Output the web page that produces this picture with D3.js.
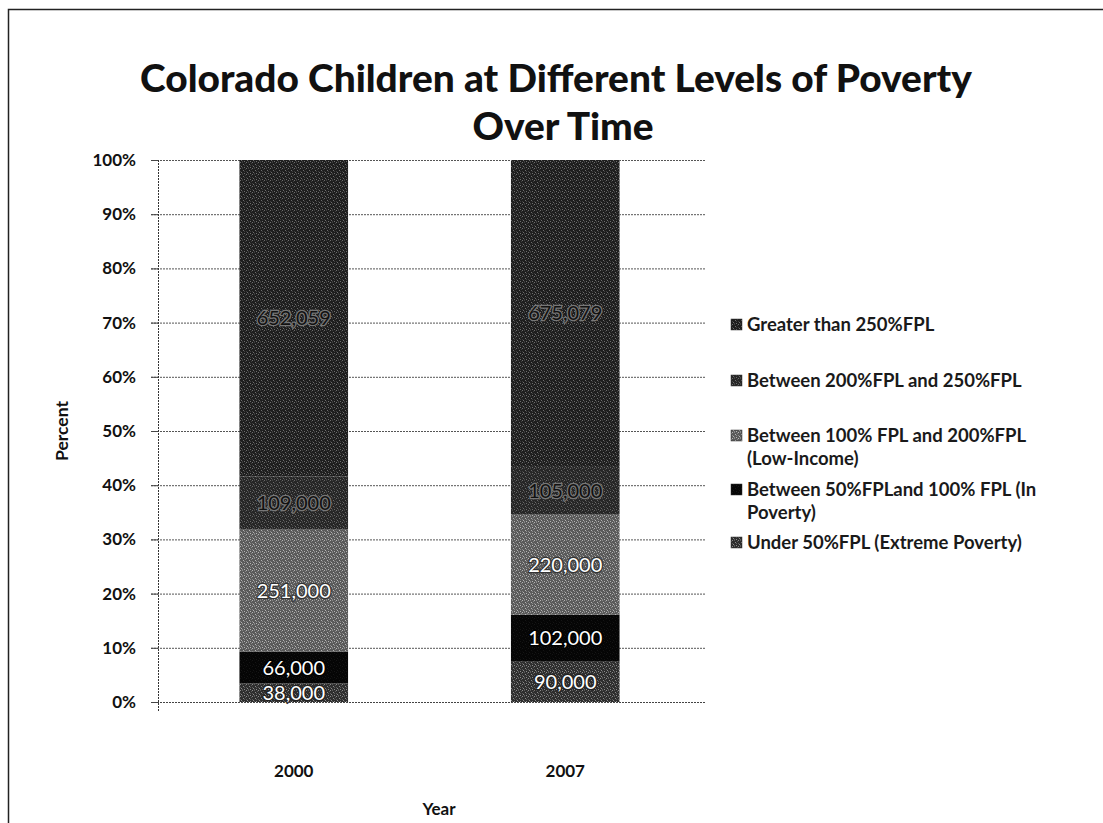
<!DOCTYPE html>
<html>
<head>
<meta charset="utf-8">
<script src="https://cdn.jsdelivr.net/npm/d3@7/dist/d3.min.js"></script>
<style>
  html, body { margin: 0; padding: 0; background: #fff; }
  svg { display: block; }
  text { font-family: Lato, "Open Sans", "DejaVu Sans", sans-serif; }
</style>
</head>
<body>
<svg id="chart" width="1103" height="823"></svg>
<script>
// ---------------- DATA ----------------
const years = ["2000", "2007"];
const seriesKeys = ["under50", "p50to100", "p100to200", "p200to250", "over250"];
const under50   = [38000, 90000];
const p50to100  = [66000, 102000];
const p100to200 = [251000, 220000];
const p200to250 = [109000, 105000];
const over250   = [652059, 675079];
const legendLines = {
  over250:   ["Greater than 250%FPL"],
  p200to250: ["Between 200%FPL and 250%FPL"],
  p100to200: ["Between 100% FPL and 200%FPL", "(Low-Income)"],
  p50to100:  ["Between 50%FPLand 100% FPL (In", "Poverty)"],
  under50:   ["Under 50%FPL (Extreme Poverty)"]
};
const yTicks = [0, 0.1, 0.2, 0.3, 0.4, 0.5, 0.6, 0.7, 0.8, 0.9, 1.0];
const titleLines = ["Colorado Children at Different Levels of Poverty", "Over Time"];
const yTitle = "Percent";
const xTitle = "Year";

// ---------------- BUILD TABLE ----------------
const seriesValues = { under50, p50to100, p100to200, p200to250, over250 };
const table = years.map((y, i) => {
  const row = { year: y };
  seriesKeys.forEach(k => row[k] = seriesValues[k][i]);
  return row;
});

// ---------------- STYLES ----------------
const fills = {
  under50:   { base: "#2e2e2e", dot: "#8a8a8a", dot2: "#5a5a5a" },
  p50to100:  { base: "#050505", dot: "#151515", dot2: "#0a0a0a" },
  p100to200: { base: "#5a5a5a", dot: "#b4b4b4", dot2: "#888888" },
  p200to250: { base: "#262626", dot: "#6a6a6a", dot2: "#444444" },
  over250:   { base: "#1e1e1e", dot: "#6e6e6e", dot2: "#3e3e3e" }
};
const labelStyle = {
  under50:   { fill: "#ffffff", halo: "#222" },
  p50to100:  { fill: "#ffffff", halo: "#000" },
  p100to200: { fill: "#ffffff", halo: "#333" },
  p200to250: { fill: "#111111", halo: "#777" },
  over250:   { fill: "#111111", halo: "#777" }
};

const svg = d3.select("#chart");
const W = 1103, H = 823;

// patterns (texture like the dithered print)
const defs = svg.append("defs");
seriesKeys.forEach(k => {
  const f = fills[k];
  const p = defs.append("pattern")
    .attr("id", "pat-" + k)
    .attr("patternUnits", "userSpaceOnUse")
    .attr("width", 6).attr("height", 6);
  p.append("rect").attr("width", 6).attr("height", 6).attr("fill", f.base);
  [[0,0],[3,2],[1,4],[4,5]].forEach(([x,y]) =>
    p.append("rect").attr("x", x).attr("y", y).attr("width", 1).attr("height", 1).attr("fill", f.dot));
  [[2,0],[5,1],[0,3],[4,3],[2,5]].forEach(([x,y]) =>
    p.append("rect").attr("x", x).attr("y", y).attr("width", 1).attr("height", 1).attr("fill", f.dot2));
});

// outer border (only top & left visible in reference)
svg.append("path")
  .attr("d", `M8.5,${H} L8.5,9.5 L${W},9.5`)
  .attr("fill", "none").attr("stroke", "#222").attr("stroke-width", 1.5);

function fitWidth(sel, target) {
  const fs = parseFloat(sel.attr("font-size"));
  const w = sel.node().getComputedTextLength();
  const nfs = fs * target / w;
  sel.attr("font-size", nfs);
  return nfs;
}

// ---------------- LAYOUT ----------------
const plot = { left: 158, right: 701, top: 160, bottom: 702 };

const x = d3.scaleBand()
  .domain(years)
  .range([plot.left, plot.right])
  .paddingInner(0.6)
  .paddingOuter(0.3);

const y = d3.scaleLinear()
  .domain([0, 1])
  .range([plot.bottom, plot.top]);

// gridlines
svg.append("g")
  .selectAll("line")
  .data(yTicks.filter(d => d > 0))
  .join("line")
  .attr("x1", plot.left - 7).attr("x2", plot.right + 4)
  .attr("y1", d => y(d) + 0.5).attr("y2", d => y(d) + 0.5)
  .attr("stroke", "#555").attr("stroke-width", 1)
  .attr("stroke-dasharray", "2,1");

// stacked bars
const stack = d3.stack().keys(seriesKeys).offset(d3.stackOffsetExpand);
const stacked = stack(table);

const groups = svg.append("g").selectAll("g")
  .data(stacked)
  .join("g")
  .attr("fill", d => `url(#pat-${d.key})`);

groups.selectAll("rect")
  .data(d => d.map(v => ({ key: d.key, v })))
  .join("rect")
  .attr("x", d => x(d.v.data.year))
  .attr("width", x.bandwidth())
  .attr("y", d => y(d.v[1]))
  .attr("height", d => y(d.v[0]) - y(d.v[1]));

// axes
const yAxis = d3.axisLeft(y).tickValues(yTicks).tickFormat(d3.format(".0%")).tickSize(7).tickPadding(15);
const gy = svg.append("g").attr("transform", `translate(${plot.left},0)`).call(yAxis);
gy.select(".domain").attr("d", `M0.5,${plot.top}V${plot.bottom + 9}`).attr("stroke", "#333").attr("stroke-dasharray", "2,1");
gy.selectAll(".tick line").attr("stroke", "#444");
gy.selectAll(".tick text")
  .attr("font-size", 17).attr("font-weight", 700).attr("fill", "#111")
  .style("font-family", "Lato, sans-serif");

const xAxis = d3.axisBottom(x).tickSize(0).tickPadding(0);
const gx = svg.append("g").attr("transform", `translate(0,${plot.bottom})`).call(xAxis);
gx.select(".domain").attr("d", `M${plot.left - 7},0.5H${plot.right + 4}`).attr("stroke", "#444").attr("stroke-dasharray", "2,1");
gx.selectAll(".tick text")
  .attr("dy", null).attr("y", 75)
  .attr("font-size", 17).attr("font-weight", 700).attr("fill", "#111")
  .style("font-family", "Lato, sans-serif");

// data labels
const fmt = d3.format(",");
groups.each(function(series) {
  const key = series.key;
  d3.select(this.parentNode).append("g")
    .selectAll("text")
    .data(series)
    .join("text")
    .attr("x", d => x(d.data.year) + x.bandwidth() / 2)
    .attr("y", d => (y(d[0]) + y(d[1])) / 2 + 7)
    .attr("text-anchor", "middle")
    .attr("font-size", 20)
    .attr("fill", labelStyle[key].fill)
    .attr("stroke", labelStyle[key].halo)
    .attr("stroke-width", 2.5)
    .attr("paint-order", "stroke")
    .text(d => fmt(d.data[key]));
});

// title
const t1 = svg.append("text").attr("x", 556).attr("y", 92)
  .attr("text-anchor", "middle").attr("font-size", 36).attr("font-weight", 900).attr("fill", "#111")
  .text(titleLines[0]);
const tfs = fitWidth(t1, 832);
svg.append("text").attr("x", 563).attr("y", 140)
  .attr("text-anchor", "middle").attr("font-size", tfs).attr("font-weight", 900).attr("fill", "#111")
  .text(titleLines[1]);

// axis titles
svg.append("text")
  .attr("transform", `translate(68,431) rotate(-90)`)
  .attr("text-anchor", "middle").attr("font-size", 17.5).attr("font-weight", 700).attr("fill", "#111")
  .text(yTitle);
svg.append("text")
  .attr("x", 439).attr("y", 815)
  .attr("text-anchor", "middle").attr("font-size", 17).attr("font-weight", 700).attr("fill", "#111")
  .text(xTitle);

// legend
const legendOrder = ["over250", "p200to250", "p100to200", "p50to100", "under50"];
const legendY = { over250: 324, p200to250: 380, p100to200: 435, p50to100: 489, under50: 542 };
const lg = svg.append("g");
const lfs = 18.5;
legendOrder.forEach(k => {
  const cy = legendY[k];
  lg.append("rect").attr("x", 731).attr("y", cy - 5).attr("width", 11).attr("height", 11)
    .attr("fill", `url(#pat-${k})`).attr("stroke", "#333").attr("stroke-width", 0.5);
  legendLines[k].forEach((line, i) => {
    lg.append("text").attr("x", 747).attr("y", cy + 6.5 + i * 23)
      .attr("font-size", lfs).attr("font-weight", 700).attr("fill", "#1a1a1a")
      .text(line);
  });
});
</script>
</body>
</html>
